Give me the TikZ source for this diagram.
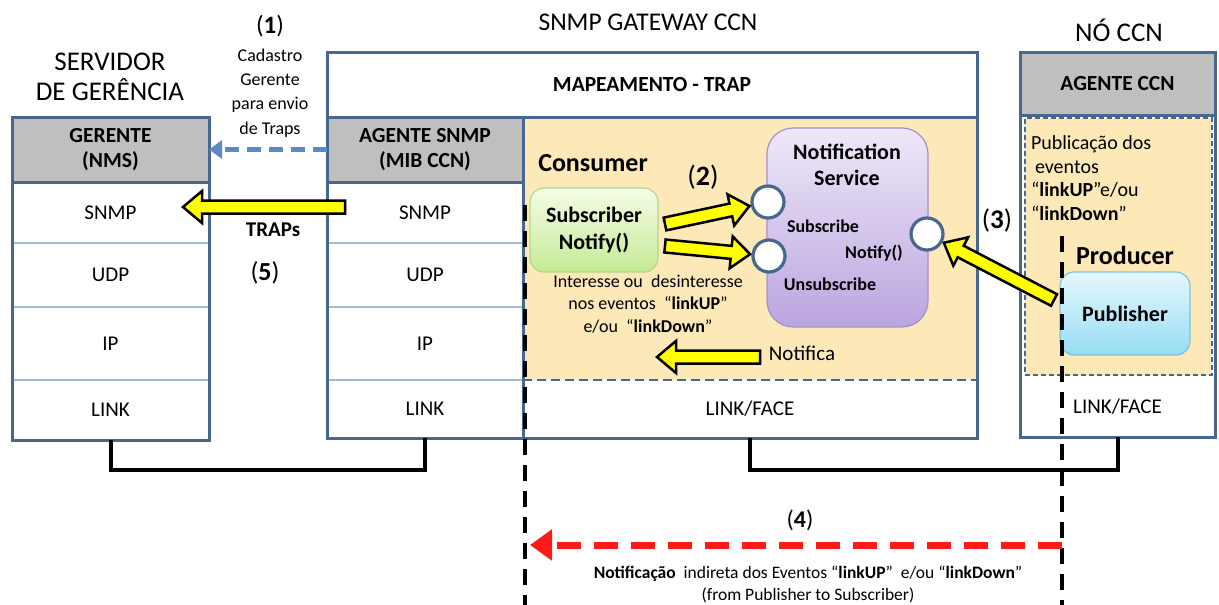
\documentclass[tikz,border=0pt]{standalone}
\usepackage{fontspec}
\setmainfont{Carlito}
\usetikzlibrary{calc,arrows.meta}

\definecolor{frame}{HTML}{46678F}
\definecolor{rowline}{HTML}{A3BBDA}
\definecolor{hdrgray}{HTML}{BFBFBF}
\definecolor{pale}{HTML}{FDE8B8}
\definecolor{trapblue}{HTML}{5A89C4}
\definecolor{flash}{HTML}{FFFF00}
\definecolor{alert}{HTML}{FF1A1A}
\definecolor{subtop}{HTML}{F4FCE6}
\definecolor{subbot}{HTML}{C6EA96}
\definecolor{subline}{HTML}{B2D68A}
\definecolor{nstop}{HTML}{EEE8F8}
\definecolor{nsbot}{HTML}{BBA5E0}
\definecolor{nsline}{HTML}{A590CE}
\definecolor{pubtop}{HTML}{E6F8FD}
\definecolor{pubbot}{HTML}{96DCF4}
\definecolor{publine}{HTML}{7DC3DC}

\newcommand\fsz[2]{\fontsize{#1}{#2}\selectfont}
\newcommand\fatSW{6.5pt}
\newcommand\fatHW{16pt}
\newcommand\fatHL{19pt}
% yellow block arrow from #1 to #2
\newcommand\fatarrow[2]{%
  \draw[fat]
    ($(#1)!\fatSW!90:(#2)$) --
    ($($(#2)!\fatHL!(#1)$)!\fatSW!90:(#2)$) --
    ($($(#2)!\fatHL!(#1)$)!\fatHW!90:(#2)$) --
    (#2) --
    ($($(#2)!\fatHL!(#1)$)!\fatHW!-90:(#2)$) --
    ($($(#2)!\fatHL!(#1)$)!\fatSW!-90:(#2)$) --
    ($(#1)!\fatSW!-90:(#2)$) -- cycle;}

\begin{document}
\begin{tikzpicture}[x=1pt,y=-1pt,
  lbl/.style={inner sep=0pt, outer sep=0pt, align=center},
  area/.style={anchor=north west, inner sep=0pt, outer sep=0pt, align=center},
  hdrbox/.style={area, fill=hdrgray, minimum height=65pt, font=\bfseries\fsz{21.5}{25}},
  rowbox/.style={area, fill=white, font=\fsz{21}{24}},
  frameline/.style={draw=frame, line width=3pt},
  sepline/.style={draw=rowline, line width=1.6pt},
  fat/.style={draw=black, fill=flash, line width=2.5pt, line join=miter},
  port/.style={circle, draw=frame, line width=3.2pt, fill=white, minimum size=32pt, inner sep=0pt},
  linkline/.style={draw=black, line width=4pt},
  lifeline/.style={draw=black, line width=3.5pt, dash pattern=on 16pt off 10pt},
]
\useasboundingbox (0,0) rectangle (1219,605);

% ---------- titles ----------
\node[lbl, font=\fsz{27}{30}] (srvtitle) at (110,77) {SERVIDOR\\DE GERÊNCIA};
\node[lbl, font=\fsz{25.5}{30}] (gwtitle) at (648,22) {SNMP GATEWAY CCN};
\node[lbl, font=\fsz{27}{30}] (nodetitle) at (1119,30) {NÓ CCN};

% ---------- management server ----------
\node[hdrbox, minimum width=197pt] (ger) at (12,117) {GERENTE\\(NMS)};
\node[rowbox, minimum width=197pt, minimum height=61pt] (gsnmp) at (12,182) {SNMP};
\node[rowbox, minimum width=197pt, minimum height=64pt] (gudp) at (12,243) {UDP};
\node[rowbox, minimum width=197pt, minimum height=73pt] (gip) at (12,307) {IP};
\node[rowbox, minimum width=197pt, minimum height=60pt] (glink) at (12,380) {LINK};
\draw[sepline] (gsnmp.south west) -- (gsnmp.south east);
\draw[sepline] (gudp.south west) -- (gudp.south east);
\draw[sepline] (gip.south west) -- (gip.south east);
\draw[frameline] (ger.south west) -- (ger.south east);
\draw[frameline] (ger.north west) rectangle (glink.south east);

% ---------- SNMP gateway ----------
\node[rowbox, minimum width=650pt, minimum height=65pt, font=\bfseries\fsz{21.5}{24}] (map) at (327,52) {MAPEAMENTO - TRAP};
\node[hdrbox, minimum width=196pt] (agh) at (327,117) {AGENTE SNMP\\(MIB CCN)};
\node[rowbox, minimum width=196pt, minimum height=61pt] (asnmp) at (327,182) {SNMP};
\node[rowbox, minimum width=196pt, minimum height=64pt] (audp) at (327,243) {UDP};
\node[rowbox, minimum width=196pt, minimum height=73pt] (aip) at (327,307) {IP};
\node[rowbox, minimum width=196pt, minimum height=58pt] (alink) at (327,380) {LINK};
\node[area, fill=pale, minimum width=454pt, minimum height=263pt] (cons) at (523,117) {};
\node[rowbox, minimum width=454pt, minimum height=58pt] (face) at (523,380) {LINK/FACE};
\draw[sepline] (asnmp.south west) -- (asnmp.south east);
\draw[sepline] (audp.south west) -- (audp.south east);
\draw[sepline] (aip.south west) -- (aip.south east);
\draw[draw=frame, line width=2.5pt, dash pattern=on 9pt off 5pt] (cons.south west) -- (cons.south east);
\draw[frameline] (map.south west) -- (map.south east);
\draw[frameline] (agh.south west) -- (agh.south east);
\draw[frameline] (agh.north east) -- (alink.south east);
\draw[frameline] (map.north west) rectangle (face.south east);

% ---------- CCN node ----------
\node[hdrbox, minimum width=195pt, minimum height=63pt] (agc) at (1020,52) {AGENTE CCN};
\node[rowbox, minimum width=195pt, minimum height=61pt] (nface) at (1020,376) {LINK/FACE};
\node[area, fill=pale, draw=frame, line width=1.6pt, dash pattern=on 5pt off 3pt, minimum width=187pt, minimum height=257pt] (prod) at (1025,118) {};
\draw[frameline] (agc.south west) -- (agc.south east);
\draw[frameline] (agc.north west) rectangle (nface.south east);

% ---------- consumer side ----------
\node[lbl, font=\bfseries\fsz{26}{30}] (consumer) at (593,163) {Consumer};
\node[area, minimum width=128pt, minimum height=84pt, rounded corners=14pt,
      top color=subtop, bottom color=subbot, draw=subline, line width=1.2pt,
      font=\bfseries\fsz{22}{27}] (sub) at (530,188) {Subscriber\\Notify()};
\node[lbl, font=\fsz{18}{22.5}] (interest) at (648,304)
  {Interesse ou\ \ desinteresse\\nos eventos\ \ “\textbf{linkUP}”\\e/ou\ \ “\textbf{linkDown}”};
\node[lbl, font=\fsz{28}{30}] (n2) at (703,177) {(\textbf{2})};

% ---------- notification service ----------
\node[area, minimum width=161pt, minimum height=199pt, rounded corners=26pt,
      top color=nstop, bottom color=nsbot, draw=nsline, line width=1.2pt] (ns) at (767,128) {};
\node[lbl, font=\bfseries\fsz{22}{26}] (nstitle) at (847,165) {Notification\\Service};
\node[port] (psub) at (768,202) {};
\node[port] (punsub) at (769,256) {};
\node[port] (pnot) at (927,234) {};
\node[lbl, font=\bfseries\fsz{18}{22}] (lsub) at (823,226) {Subscribe};
\node[lbl, font=\bfseries\fsz{18}{22}] (lnot) at (874,253) {Notify()};
\node[lbl, font=\bfseries\fsz{18}{22}] (lunsub) at (830,284) {Unsubscribe};
\node[lbl, font=\fsz{21}{24}] (notifica) at (802,353) {Notifica};

% ---------- producer side ----------
\node[lbl, align=left, anchor=west, font=\fsz{20}{23.7}] (pubtext) at (1031,178)
  {Publicação dos\\\hspace{4pt}eventos\\“\textbf{linkUP}”e/ou\\“\textbf{linkDown}”};
\node[lbl, font=\bfseries\fsz{26}{30}] (producer) at (1125,255) {Producer};
\node[area, minimum width=130pt, minimum height=83pt, rounded corners=14pt,
      top color=pubtop, bottom color=pubbot, draw=publine, line width=1.2pt,
      font=\bfseries\fsz{22}{26}] (pub) at (1060,272) {Publisher};
\node[lbl, font=\fsz{27}{30}] (n3) at (997,220) {(\textbf{3})};

% ---------- step (1) and (5) labels ----------
\node[lbl, font=\fsz{25}{30}] (n1) at (270,26) {(\textbf{1})};
\node[lbl, font=\fsz{18}{24.3}] (cadastro) at (270,93) {Cadastro\\Gerente\\para envio\\de Traps};
\node[lbl, font=\bfseries\fsz{21}{24}] (traps) at (273,230) {TRAPs};
\node[lbl, font=\fsz{26}{30}] (n5) at (265,273) {(\textbf{5})};

% ---------- physical links ----------
\draw[linkline] (glink.south) -- ++(0,30) -| (alink.south);
\draw[linkline] (face.south) -- ++(0,32) -| (nface.south);

% ---------- manager registration ----------
\draw[draw=trapblue, line width=4.5pt, dash pattern=on 14pt off 8pt,
      -{Triangle[length=13pt,width=18pt]}] (agh.west) -- (ger.east);

% ---------- block arrows ----------
\coordinate (traptail) at (345,207);
\coordinate (traptip) at (183,207);
\fatarrow{traptail}{traptip}
\coordinate (s1tail) at (665,224);
\coordinate (s1tip) at ($(psub)!19pt!(s1tail)$);
\fatarrow{s1tail}{s1tip}
\coordinate (s2tail) at (665,246);
\coordinate (s2tip) at ($(punsub)!19pt!(s2tail)$);
\fatarrow{s2tail}{s2tip}
\coordinate (p3tail) at (1054,300);
\coordinate (p3tip) at ($(pnot)!19pt!(p3tail)$);
\fatarrow{p3tail}{p3tip}
\coordinate (ntail) at (760,357);
\coordinate (ntip) at (657,357);
\fatarrow{ntail}{ntip}

% ---------- lifelines and indirect notification ----------
\coordinate (sublifetop) at (525,205);
\coordinate (sublifebot) at (525,605);
\coordinate (publifetop) at (1062,236);
\coordinate (publifebot) at (1062,605);
\draw[lifeline] (sublifetop) -- (sublifebot);
\draw[lifeline] (publifetop) -- (publifebot);
\coordinate (redstart) at (1062,545);
\coordinate (redend) at (530,545);
\draw[draw=alert, line width=7pt, dash pattern=on 24pt off 13pt,
      -{Triangle[length=22pt,width=30pt]}] (redstart) -- (redend);
\node[lbl, font=\fsz{24}{30}] (n4) at (800,520) {(\textbf{4})};
\node[lbl, font=\fsz{17.5}{22}] (indirect) at (808,584)
  {\textbf{Notificação}\ \ indireta dos Eventos “\textbf{linkUP}”\ \ e/ou “\textbf{linkDown}”\\(from Publisher to Subscriber)};
\end{tikzpicture}
\end{document}
